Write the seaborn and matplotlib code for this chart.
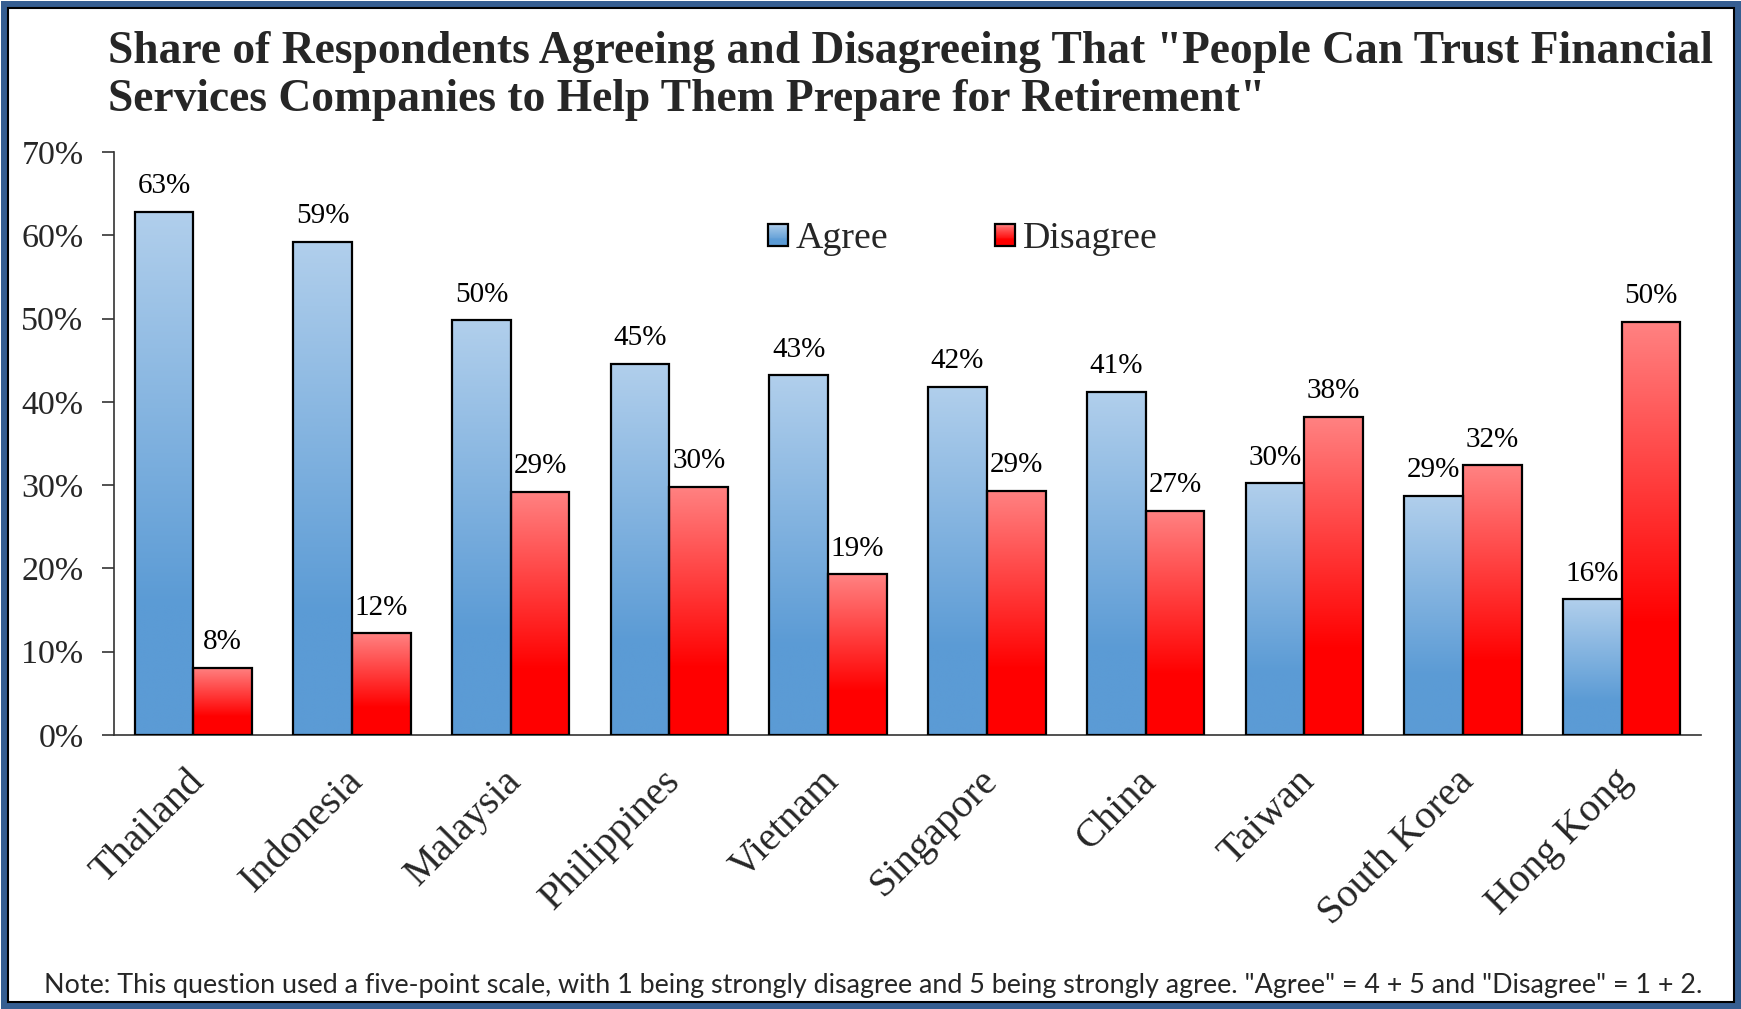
import numpy as np
import pandas as pd
import matplotlib
matplotlib.use("Agg")
import matplotlib.pyplot as plt
import matplotlib.transforms as mtransforms
import seaborn as sns
from matplotlib.colors import LinearSegmentedColormap
from matplotlib.patches import Rectangle, Patch
from matplotlib.legend_handler import HandlerBase

# ---------------- data ----------------
countries = ["Thailand", "Indonesia", "Malaysia", "Philippines", "Vietnam",
             "Singapore", "China", "Taiwan", "South Korea", "Hong Kong"]
agree = [62.8, 59.2, 49.8, 44.6, 43.2, 41.8, 41.2, 30.2, 28.7, 16.3]
disagree = [8.1, 12.2, 29.2, 29.8, 19.3, 29.3, 26.9, 38.2, 32.4, 49.6]
series = ["Agree", "Disagree"]
yticks = [0, 10, 20, 30, 40, 50, 60, 70]
title_lines = ['Share of Respondents Agreeing and Disagreeing That "People Can Trust Financial',
               'Services Companies to Help Them Prepare for Retirement"']
note = ('Note: This question used a five-point scale, with 1 being strongly disagree and 5 being '
        'strongly agree. "Agree" = 4 + 5 and "Disagree" = 1 + 2.')

df = pd.DataFrame({
    "Country": countries * 2,
    "Response": [series[0]] * len(countries) + [series[1]] * len(countries),
    "Share": agree + disagree,
})

# gradient colormaps (bottom -> top)
cmaps = {
    "Agree": LinearSegmentedColormap.from_list(
        "ag", [(0, "#5B9BD5"), (0.25, "#5B9BD5"), (1, "#B1CFEC")]),
    "Disagree": LinearSegmentedColormap.from_list(
        "dg", [(0, "#FF0000"), (0.27, "#FF0000"), (1, "#FF8282")]),
}

sns.set_theme(style="white")
plt.rcParams["font.family"] = ["Liberation Serif", "DejaVu Serif"]

W, H = 1741, 1009
fig = plt.figure(figsize=(W / 100, H / 100), dpi=100)
ax_l, ax_r, ax_t, ax_b = 114, 1701, 152, 735
ax = fig.add_axes([ax_l / W, 1 - ax_b / H, (ax_r - ax_l) / W, (ax_b - ax_t) / H])

sns.barplot(data=df, x="Country", y="Share", hue="Response",
            palette={"Agree": "#5B9BD5", "Disagree": "#FF0000"},
            saturation=1, width=0.74, dodge=True, errorbar=None,
            edgecolor="black", linewidth=1.6, legend=False, ax=ax)

grad = np.linspace(0, 1, 256).reshape(-1, 1)
for cont, name in zip(ax.containers, series):
    for p in cont.patches:
        x0, w, h = p.get_x(), p.get_width(), p.get_height()
        im = ax.imshow(grad, extent=[x0, x0 + w, 0, h], origin="lower",
                       cmap=cmaps[name], aspect="auto", zorder=2,
                       interpolation="bilinear")
        im.set_clip_path(p)
        p.set_facecolor("none")
        p.set_zorder(3)
    ax.bar_label(cont, labels=[f"{v:.0f}%" for v in cont.datavalues],
                 padding=9, fontsize=21, color="black")

ax.set_xlim(-0.5, len(countries) - 0.5)
ax.set_ylim(0, 70)
ax.set_yticks(yticks)
ax.set_yticklabels([f"{t}%" for t in yticks], fontsize=24.5)
ax.set_xlabel("")
ax.set_ylabel("")
for s in ["top", "right"]:
    ax.spines[s].set_visible(False)
for s in ["left", "bottom"]:
    ax.spines[s].set_color("#333333")
    ax.spines[s].set_linewidth(1.2)
ax.tick_params(axis="y", direction="out", length=9, width=1.2, color="#333333", pad=13, left=True)
ax.tick_params(axis="x", length=0, pad=20)
shift = mtransforms.ScaledTranslation(-8 / 100, 0, fig.dpi_scale_trans)
for lab in ax.get_xticklabels():
    lab.set_rotation(45)
    lab.set_ha("right")
    lab.set_va("top")
    lab.set_rotation_mode("anchor")
    lab.set_fontsize(29)
    lab.set_transform(lab.get_transform() + shift)


class GradHandler(HandlerBase):
    def __init__(self, cmap):
        super().__init__()
        self.cmap = cmap

    def create_artists(self, legend, orig_handle, xdescent, ydescent,
                       width, height, fontsize, trans):
        arts = []
        n = 24
        for i in range(n):
            arts.append(Rectangle((-xdescent, -ydescent + i * height / n), width, height / n,
                                  facecolor=self.cmap((i + 0.5) / n), edgecolor="none",
                                  transform=trans))
        arts.append(Rectangle((-xdescent, -ydescent), width, height, fill=False,
                              edgecolor="black", linewidth=1.6, transform=trans))
        return arts


handles = [Patch(label=s) for s in series]
fig.legend(handles=handles, labels=series, ncol=2, frameon=False,
           loc="center left", bbox_to_anchor=(768 / W, 1 - 239 / H),
           fontsize=27.3, handlelength=0.52, handleheight=0.52,
           handletextpad=0.22, columnspacing=2.8, borderpad=0, borderaxespad=0,
           handler_map={handles[0]: GradHandler(cmaps["Agree"]),
                        handles[1]: GradHandler(cmaps["Disagree"])})

title_font = dict(fontsize=32.8, fontweight="bold", ha="left", va="baseline")
fig.text(108 / W, 1 - 63 / H, title_lines[0], **title_font)
fig.text(108 / W, 1 - 111 / H, title_lines[1], **title_font)
fig.text(44 / W, 1 - 993 / H, note, fontsize=19.4, family=["Lato", "DejaVu Sans"],
         ha="left", va="baseline")

# frame
fig.patches.append(Rectangle((3.5 / W, 3.5 / H), 1 - 7 / W, 1 - 7 / H, transform=fig.transFigure,
                             fill=False, edgecolor="#365E91", linewidth=7 * 0.72))
fig.patches.append(Rectangle((7.5 / W, 7.5 / H), 1 - 15 / W, 1 - 15 / H, transform=fig.transFigure,
                             fill=False, edgecolor="black", linewidth=1.5))

fig.savefig("out.png", dpi=100)
